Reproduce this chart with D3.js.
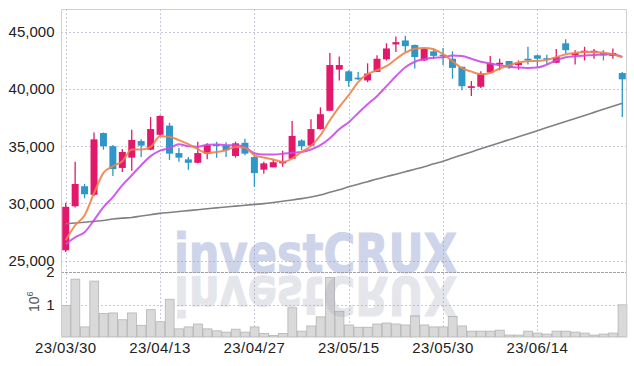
<!DOCTYPE html>
<html><head><meta charset="utf-8">
<script src="https://cdn.jsdelivr.net/npm/d3@7"></script>
<style>body{margin:0;background:#fff} svg{display:block}</style>
</head><body><svg id="c" width="634" height="366"></svg>
<script>
const dates=["23/03/30","23/03/31","23/04/03","23/04/04","23/04/05","23/04/06","23/04/07","23/04/10","23/04/11","23/04/12",
"23/04/13","23/04/14","23/04/17","23/04/18","23/04/19","23/04/20","23/04/21","23/04/24","23/04/25","23/04/26",
"23/04/27","23/04/28","23/05/02","23/05/03","23/05/04","23/05/08","23/05/09","23/05/10","23/05/11","23/05/12",
"23/05/15","23/05/16","23/05/17","23/05/18","23/05/19","23/05/22","23/05/23","23/05/24","23/05/25","23/05/26",
"23/05/30","23/05/31","23/06/01","23/06/02","23/06/05","23/06/07","23/06/08","23/06/09","23/06/12","23/06/13",
"23/06/14","23/06/15","23/06/16","23/06/19","23/06/20","23/06/21","23/06/22","23/06/23","23/06/26","23/06/27"];
const open=[25900,29750,31500,30750,36150,35000,33100,34000,35450,34700,36000,36800,34400,33850,33550,34350,35150,35050,34150,35300,
34050,32950,33150,33500,33900,35500,35050,36500,38100,41700,41550,41000,40750,41500,42600,43900,44250,43850,42500,43300,
43000,42650,41950,40100,40200,41450,42150,42450,42100,42650,42950,42700,42300,44000,42950,43200,43200,43150,42900,41400];
const high=[30050,33650,31700,36200,36200,35100,34750,36450,35600,37550,37700,37050,34850,34050,35400,35250,35400,35350,35400,35650,
34200,33650,33800,34600,37200,35600,37350,38400,43150,42850,41650,41500,42250,42950,44000,44600,44650,43900,43600,43550,
43600,43300,41950,40700,41550,42900,42650,42450,42500,43700,43000,43000,43500,44350,43400,43700,43500,43400,43550,41500];
const low=[25750,29650,30450,30650,34700,32400,32750,32850,34050,34650,35850,33800,33650,32950,33500,33850,34000,34050,34000,34200,
31450,32600,33150,33200,33900,34650,34950,36450,38100,40750,40200,40800,40600,41500,42500,43250,43250,41800,42450,42650,
42100,40900,39900,39400,40100,41400,41650,41750,41700,42150,41950,42150,42250,43100,42150,42500,42650,42500,42650,37550];
const close=[29700,31700,30800,35600,35000,33000,34500,35550,35050,36500,37650,34350,34000,33550,34400,35100,35050,34650,35250,34350,
32650,33500,33600,33700,35900,35000,36500,37800,42100,42100,40700,40850,41350,42650,43550,44100,43750,42800,43500,42900,
42850,41850,40250,40250,41350,42250,42300,41900,42300,42500,42650,42600,42800,43400,43150,43350,43350,42950,43150,40850];
const volume=[970000,1780000,310000,1720000,720000,740000,530000,740000,360000,840000,470000,1160000,250000,310000,400000,250000,190000,150000,240000,150000,
310000,110000,50000,110000,900000,180000,340000,620000,1830000,790000,370000,300000,300000,400000,430000,400000,370000,650000,370000,310000,
310000,630000,340000,180000,180000,180000,210000,60000,60000,180000,120000,90000,180000,180000,150000,120000,60000,90000,120000,990000];
const ma5=[26780,28090,28970,30890,32670,33250,33690,34710,34710,34940,35880,35830,35530,35180,34740,34390,34500,34650,34940,34870,
34210,34010,33840,33630,33920,34500,35030,35960,37270,38440,39460,40600,41300,41650,42000,42610,43180,43530,43600,43480,
43050,42430,41820,41520,41300,41410,41800,42080,42320,42430,42460,42560,42780,43050,43160,43250,43250,43180,43050,42780];
const ma10=[26430,27040,27480,28530,29670,30540,31590,32460,33340,34130,34610,34830,35180,35000,34960,35130,35150,35090,35090,34910,
34390,34270,34280,34340,34430,34500,34710,35090,35700,36490,37100,37890,38670,39370,40250,41120,41910,42390,42610,42740,
42780,42930,42890,42650,42390,42230,42080,41950,41880,41850,41880,42130,42520,42780,42870,42930,42980,43020,43050,42810];
const maLong=[28220,28280,28350,28430,28510,28630,28710,28770,28900,29010,29130,29210,29290,29370,29450,29530,29610,29690,29760,29840,
29910,29980,30080,30190,30300,30420,30560,30730,30980,31200,31450,31680,31900,32140,32350,32550,32760,32990,33210,33460,
33690,33970,34230,34500,34770,35040,35310,35570,35830,36100,36360,36630,36900,37160,37430,37690,37960,38230,38500,38760];
const priceTicks=[25000,30000,35000,40000,45000];
const volTicks=[1000000,2000000];
const dateTicks=["23/03/30","23/04/13","23/04/27","23/05/15","23/05/30","23/06/14"];

const L=61,R=627,T=9,PB=272,VB=337;
const svg=d3.select("#c");
const x=d3.scaleBand().domain(dates).range([L,R]);
const bw=x.bandwidth();
const cx=d=>x(d)+bw/2;
const y=d3.scaleLinear().domain([24000,47000]).range([PB,T]);
const yv=d3.scaleLinear().domain([0,2000000]).range([VB,PB]);
const FONT="'Liberation Sans Narrow', 'Liberation Sans', sans-serif";
const gridC="#c8c9dc";

// grid
const g=svg.append("g");
g.selectAll(".hg").data(priceTicks).join("line")
 .attr("x1",L).attr("x2",R).attr("y1",d=>Math.round(y(d))+0.5).attr("y2",d=>Math.round(y(d))+0.5)
 .attr("stroke",gridC).attr("stroke-dasharray","2,2");
g.selectAll(".vg").data([volTicks[0]]).join("line")
 .attr("x1",L).attr("x2",R).attr("y1",d=>Math.round(yv(d))+0.5).attr("y2",d=>Math.round(yv(d))+0.5)
 .attr("stroke",gridC).attr("stroke-dasharray","2,2");
g.selectAll(".xg").data(dateTicks).join("line")
 .attr("x1",d=>Math.round(cx(d))+0.5).attr("x2",d=>Math.round(cx(d))+0.5).attr("y1",T).attr("y2",VB)
 .attr("stroke",gridC).attr("stroke-dasharray","2,2");

// volume bars
svg.append("g").selectAll("rect").data(dates).join("rect")
 .attr("x",d=>x(d)+0.5).attr("width",bw-0.6)
 .attr("y",(d,i)=>yv(volume[i])).attr("height",(d,i)=>VB-yv(volume[i]))
 .attr("fill","#d9d9d9").attr("stroke","#b4b4b4").attr("stroke-width",0.8);

// candles
const UP="#e2196b",DN="#2f96c8";
const cg=svg.append("g");
dates.forEach((d,i)=>{
  const col=close[i]>=open[i]?UP:DN;
  const xc=cx(d);
  cg.append("line").attr("x1",xc).attr("x2",xc).attr("y1",y(high[i])).attr("y2",y(low[i]))
    .attr("stroke",col).attr("stroke-width",1.3);
  const top=y(Math.max(open[i],close[i])),bot=y(Math.min(open[i],close[i]));
  const bwid=bw*0.74;
  cg.append("rect").attr("x",xc-bwid/2).attr("width",bwid).attr("y",top).attr("height",Math.max(1.5,bot-top))
    .attr("fill",col);
});

// MA lines
const line=arr=>d3.line().x((d,i)=>cx(dates[i])).y(d=>y(d)).curve(d3.curveMonotoneX)(arr);
svg.append("path").attr("d",line(maLong)).attr("fill","none").attr("stroke","#808080").attr("stroke-width",1.6);
svg.append("path").attr("d",line(ma10)).attr("fill","none").attr("stroke","#c94ce8").attr("stroke-width",2).attr("stroke-opacity",0.9);
svg.append("path").attr("d",line(ma5)).attr("fill","none").attr("stroke","#f0834a").attr("stroke-width",2).attr("stroke-opacity",0.9);

// watermark
const wmFont="'DejaVu Sans', 'Liberation Sans', sans-serif";
const w1=svg.append("g").attr("opacity",0.42);
w1.append("text").attr("x",174).attr("y",271.5).attr("textLength",283).attr("lengthAdjust","spacingAndGlyphs")
  .attr("font-family",wmFont).attr("font-weight","bold").attr("font-size",53)
  .attr("fill","#8c9acb").attr("stroke","#8c9acb").attr("stroke-width",1.2).text("investCRUX");
const w2=svg.append("g").attr("opacity",0.25);
w2.append("text").attr("x",174).attr("y",271.5).attr("textLength",283).attr("lengthAdjust","spacingAndGlyphs")
  .attr("transform","translate(0,548) scale(1,-1)")
  .attr("font-family",wmFont).attr("font-weight","bold").attr("font-size",53)
  .attr("fill","#9a9ab5").attr("stroke","#9a9ab5").attr("stroke-width",1.2).text("investCRUX");

// divider & frame
svg.append("line").attr("x1",L).attr("x2",R).attr("y1",272.5).attr("y2",272.5).attr("stroke","#a0a0a8").attr("stroke-dasharray","3,1");
svg.append("path").attr("d",`M${L+0.5},${VB}V${T+0.5}H${R-0.5}V${VB}`).attr("fill","none").attr("stroke","#d0d0d0");

// axes
const ay=svg.append("g").attr("transform",`translate(${L},0)`)
 .call(d3.axisLeft(y).tickValues(priceTicks).tickSize(0).tickPadding(6.5).tickFormat(d3.format(",")));
const av=svg.append("g").attr("transform",`translate(${L},0)`)
 .call(d3.axisLeft(yv).tickValues(volTicks).tickSize(0).tickPadding(6.5).tickFormat(d=>d/1000000));
const ax=svg.append("g").attr("transform",`translate(0,${VB})`)
 .call(d3.axisBottom(x).tickValues(dateTicks).tickSize(0).tickPadding(5.5));
[ay,av,ax].forEach(a=>{a.select(".domain").remove();
  a.selectAll("text").attr("font-family",FONT).attr("font-size",15).attr("fill","#222");});
ax.selectAll("text").attr("letter-spacing","0.4px");

// unit label 10^6
const ut=svg.append("text").attr("transform","translate(38.5,312) rotate(-90)")
 .attr("font-family",FONT).attr("font-size",14).attr("fill","#555");
ut.append("tspan").text("10");
ut.append("tspan").attr("font-size",9).attr("dy",-6).text("6");
</script></body></html>
